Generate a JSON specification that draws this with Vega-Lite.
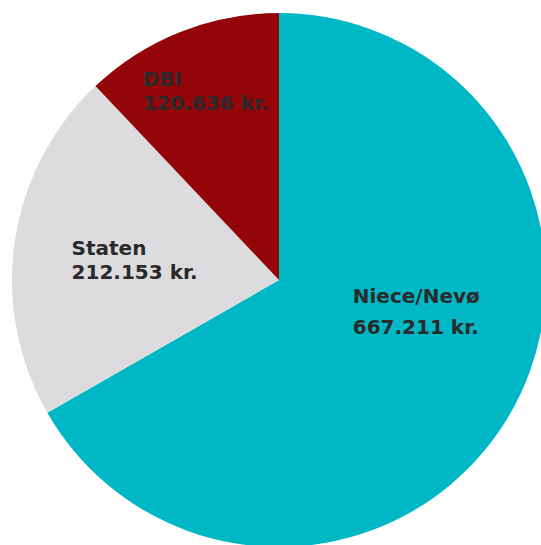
{
  "$schema": "https://vega.github.io/schema/vega-lite/v6.json",
  "autosize": {"type": "none"},
  "padding": {"left": 17, "top": 15, "right": 0, "bottom": 0},
  "width": 524,
  "height": 530,
  "background": "white",
  "config": {"view": {"stroke": null}},
  "data": {
    "values": [
      {"name": "Niece/Nevø", "amount": 667211, "label": "Niece/Nevø\n667.211 kr.", "ord": 1},
      {"name": "Staten", "amount": 212153, "label": "Staten\n212.153 kr.", "ord": 2},
      {"name": "DBI", "amount": 120636, "label": "DBI\n120.636 kr.", "ord": 3}
    ]
  },
  "encoding": {
    "theta": {"field": "amount", "type": "quantitative", "stack": true},
    "order": {"field": "ord", "type": "quantitative", "sort": "ascending"}
  },
  "layer": [
    {
      "mark": {"type": "arc", "radius": 267, "stroke": null},
      "encoding": {
        "color": {
          "field": "name",
          "type": "nominal",
          "scale": {"domain": ["Niece/Nevø", "Staten", "DBI"], "range": ["#00B7C6", "#DCDCDE", "#94050A"]},
          "legend": null
        }
      }
    },
    {
      "mark": {"type": "text", "radius": 150, "dx": -56, "dy": -52, "align": "left", "baseline": "alphabetic", "lineBreak": "\n", "lineHeight": 31, "font": "DejaVu Sans", "fontWeight": "bold", "fontSize": 20, "fill": "#2a2a2a"},
      "encoding": {"text": {"condition": {"test": "datum.name === 'Niece/Nevø'", "field": "label"}, "value": ""}}
    },
    {
      "mark": {"type": "text", "radius": 150, "dx": -59, "dy": -3, "align": "left", "baseline": "alphabetic", "lineBreak": "\n", "lineHeight": 24, "font": "DejaVu Sans", "fontWeight": "bold", "fontSize": 20, "fill": "#2a2a2a"},
      "encoding": {"text": {"condition": {"test": "datum.name === 'Staten'", "field": "label"}, "value": ""}}
    },
    {
      "mark": {"type": "text", "radius": 209, "dx": -59, "dy": 0, "align": "left", "baseline": "alphabetic", "lineBreak": "\n", "lineHeight": 24, "font": "DejaVu Sans", "fontWeight": "bold", "fontSize": 20, "fill": "#2a2a2a"},
      "encoding": {"text": {"condition": {"test": "datum.name === 'DBI'", "field": "label"}, "value": ""}}
    }
  ]
}
